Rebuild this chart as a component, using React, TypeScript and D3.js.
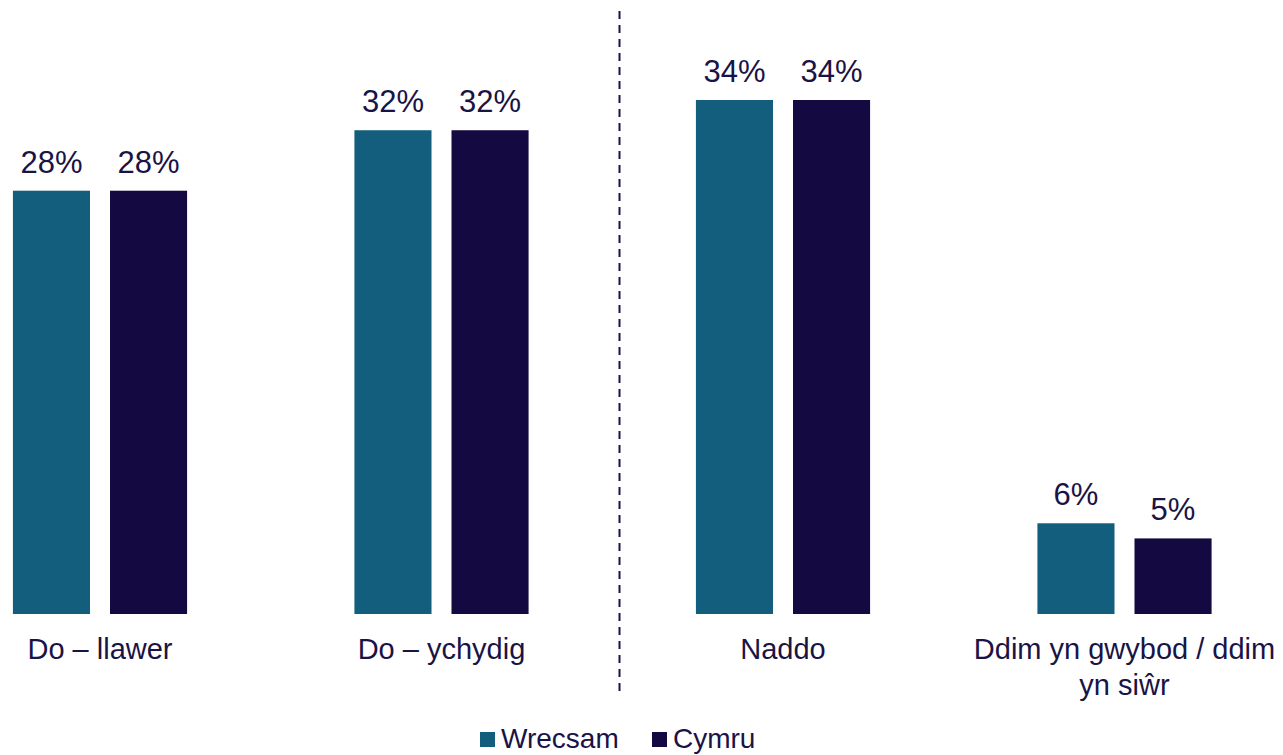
import React from "react";
import * as d3 from "d3";

const categories = ["Do – llawer", "Do – ychydig", "Naddo", "Ddim yn gwybod / ddim yn siŵr"];
const categoryLines = [["Do – llawer"], ["Do – ychydig"], ["Naddo"], ["Ddim yn gwybod / ddim", "yn siŵr"]];
const seriesNames = ["Wrecsam", "Cymru"];
const wrecsam = [28, 32, 34, 6];
const cymru = [28, 32, 34, 5];
const colors = ["#125E7C", "#140940"];
const textColor = "#1A1345";

export default function App() {
  const W = 1283, H = 755;
  const font = "'Liberation Sans', Arial, sans-serif";
  const x0 = d3.scaleBand<string>().domain(categories).range([-70.75, 1295.25]).paddingInner(0.49).paddingOuter(0.245);
  const x1 = d3.scaleBand<string>().domain(seriesNames).range([0, x0.bandwidth()]).paddingInner(0.206);
  const y = d3.scaleLinear().domain([0, 34]).range([614, 100]);
  const data = [wrecsam, cymru];
  const divX = 619.5;
  return (
    <svg width={W} height={H} style={{ position: "absolute", left: 0, top: 0, display: "block" }} fontFamily={font}>
      <rect width={W} height={H} fill="#fff" />
      <line x1={divX} x2={divX} y1={11} y2={692} stroke="#1A1345" strokeWidth={2} strokeDasharray="8 6" />
      {categories.map((c, i) => (
        <g key={c} transform={`translate(${x0(c)},0)`}>
          {seriesNames.map((s, j) => {
            const v = data[j][i];
            const bx = x1(s)!;
            return (
              <g key={s}>
                <rect x={bx} y={y(v)} width={x1.bandwidth()} height={y(0) - y(v)} fill={colors[j]} />
                <text x={bx + x1.bandwidth() / 2} y={y(v) - 18} textAnchor="middle" fontSize={31} fill={textColor}>
                  {v}%
                </text>
              </g>
            );
          })}
          {categoryLines[i].map((ln, k) => (
            <text key={k} x={x0.bandwidth() / 2} y={659 + k * 36} textAnchor="middle" fontSize={29} fill={textColor}>
              {ln}
            </text>
          ))}
        </g>
      ))}
      {seriesNames.map((s, j) => {
        const lx = [480, 652][j];
        return (
          <g key={s}>
            <rect x={lx} y={732} width={15} height={15} fill={colors[j]} />
            <text x={lx + 21} y={748} fontSize={28} fill={textColor}>{s}</text>
          </g>
        );
      })}
    </svg>
  );
}
